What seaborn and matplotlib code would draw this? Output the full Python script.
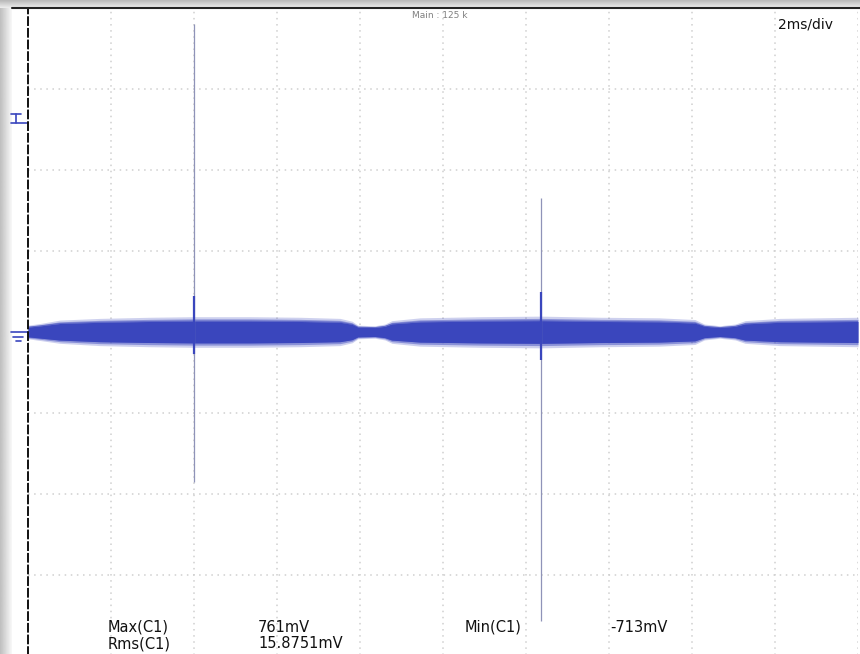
"""Oscilloscope capture of channel C1: noise band with two switching spikes."""

import matplotlib.pyplot as plt
import numpy as np
import pandas as pd
import seaborn as sns

# time base: 2 ms/div, 10 divisions; vertical: 200 mV/div, 8 divisions
TIME_MS = [0.0, 0.29, 0.77, 1.73, 2.94, 4.0, 5.35, 6.55, 7.52, 7.81, 7.95, 8.36,
           8.6, 8.77, 9.45, 10.9, 12.36, 13.8, 15.2, 16.07, 16.3, 16.67, 17.04,
           17.28, 18.12, 20.0]
ENV_UPPER_MV = [12, 15, 21, 24, 26, 27, 27, 26, 24, 19, 12, 11,
                14, 20, 25, 27, 28, 26, 25, 22, 14, 11, 14,
                20, 24, 26]
ENV_LOWER_MV = [-12, -15, -20, -24, -26, -27, -27, -26, -24, -19, -12, -11,
                -14, -20, -25, -27, -28, -26, -25, -22, -14, -11, -14,
                -20, -24, -26]

SPIKE_TIME_MS = [4.0, 12.36]
SPIKE_MAX_MV = [761, 331]
SPIKE_MIN_MV = [-370, -713]
SPIKE_CORE_TOP_MV = [88, 100]
SPIKE_CORE_BOTTOM_MV = [-55, -70]

TRIGGER_LEVEL_MV = 528
MEAS_LABELS = ["Max(C1)", "Rms(C1)", "Min(C1)"]
MEAS_VALUES = ["761mV", "15.8751mV", "-713mV"]

TRACE_COLOR = "#3a46bd"

sns.set_style("white")
plt.rcParams["font.family"] = ["DejaVu Sans"]

W, H = 860, 654
fig = plt.figure(figsize=(W / 100, H / 100), dpi=100)


def fx(px):
    return px / W


def fy(py):
    return 1 - py / H


# window chrome: grey bar on top and shadow on the left
top_bar = fig.add_axes([0, fy(8), 1, 8 / H])
top_bar.imshow(np.linspace(0.72, 0.93, 20).reshape(-1, 1), cmap="gray", vmin=0, vmax=1,
               aspect="auto", extent=[0, 1, 0, 1])
top_bar.axis("off")
left_bar = fig.add_axes([0, 0, 12 / W, fy(8)])
left_bar.imshow(np.linspace(0.75, 0.97, 20).reshape(1, -1), cmap="gray", vmin=0, vmax=1,
                aspect="auto", extent=[0, 1, 0, 1])
left_bar.axis("off")
fig.add_artist(plt.Line2D([fx(12), 1], [fy(8), fy(8)], color="#222222", lw=1.5))

ax = fig.add_axes([fx(28), -2 / H, 830 / W, 648 / H])
ax.set_xlim(0, 20)
ax.set_ylim(-800, 800)
ax.set_xticks(np.arange(0, 21, 2))
ax.set_yticks(np.arange(-800, 801, 200))
ax.tick_params(length=0, labelbottom=False, labelleft=False)
ax.grid(True, color="#d0d0d0", linestyle=(0, (1, 3)), linewidth=1.1)
for side in ["top", "right", "bottom"]:
    ax.spines[side].set_visible(False)
ax.spines["left"].set_linestyle((0, (4, 2)))
ax.spines["left"].set_color("#111111")
ax.spines["left"].set_linewidth(1.4)

env = pd.DataFrame({"t": TIME_MS, "upper": ENV_UPPER_MV, "lower": ENV_LOWER_MV})

# ragged fringe, then dense core of the noise band
ax.fill_between(env["t"], env["lower"] * 1.4, env["upper"] * 1.4,
                color=TRACE_COLOR, alpha=0.25, lw=0)
ax.fill_between(env["t"], env["lower"] * 1.2, env["upper"] * 1.2,
                color=TRACE_COLOR, alpha=0.45, lw=0)
ax.fill_between(env["t"], env["lower"], env["upper"], color=TRACE_COLOR, lw=0)
sns.lineplot(data=env, x="t", y="upper", color=TRACE_COLOR, lw=0.6, alpha=0.6, ax=ax)
sns.lineplot(data=env, x="t", y="lower", color=TRACE_COLOR, lw=0.6, alpha=0.6, ax=ax)

ax.vlines(SPIKE_TIME_MS, SPIKE_MIN_MV, SPIKE_MAX_MV, color="#8f93b8", lw=0.9)
ax.vlines(SPIKE_TIME_MS, SPIKE_CORE_BOTTOM_MV, SPIKE_CORE_TOP_MV, color=TRACE_COLOR, lw=1.6)
ax.set_xlabel("")
ax.set_ylabel("")

# channel markers on the left edge: trigger level and ground
trans = ax.get_yaxis_transform()
ax.plot([-0.02, 0], [0, 0], transform=trans, color=TRACE_COLOR, lw=1.2, clip_on=False)
ax.plot([-0.018, -0.006], [-12, -12], transform=trans, color=TRACE_COLOR, lw=1.2, clip_on=False)
ax.plot([-0.015, -0.009], [-22, -22], transform=trans, color=TRACE_COLOR, lw=1.2, clip_on=False)
ax.plot([-0.02, 0], [TRIGGER_LEVEL_MV - 12, TRIGGER_LEVEL_MV - 12], transform=trans,
        color=TRACE_COLOR, lw=1.2, clip_on=False)
ax.plot([-0.02, -0.009], [TRIGGER_LEVEL_MV + 10, TRIGGER_LEVEL_MV + 10], transform=trans,
        color=TRACE_COLOR, lw=1.2, clip_on=False)
ax.plot([-0.0145, -0.0145], [TRIGGER_LEVEL_MV - 12, TRIGGER_LEVEL_MV + 10], transform=trans,
        color=TRACE_COLOR, lw=1.2, clip_on=False)

fig.text(fx(440), fy(16), "Main : 125 k", fontsize=6.5, color="#808080", ha="center", va="center")
fig.text(fx(778), fy(25), "2ms/div", fontsize=10, color="#111111", ha="left", va="center")

fig.text(fx(108), fy(627), MEAS_LABELS[0], fontsize=10.5, color="#111111", va="center")
fig.text(fx(108), fy(644), MEAS_LABELS[1], fontsize=10.5, color="#111111", va="center")
fig.text(fx(465), fy(627), MEAS_LABELS[2], fontsize=10.5, color="#111111", va="center")
fig.text(fx(258), fy(627), MEAS_VALUES[0], fontsize=10.5, color="#111111", va="center")
fig.text(fx(258), fy(644), MEAS_VALUES[1], fontsize=10.5, color="#111111", va="center")
fig.text(fx(610), fy(627), MEAS_VALUES[2], fontsize=10.5, color="#111111", va="center")

fig.savefig("out.png", dpi=100)
